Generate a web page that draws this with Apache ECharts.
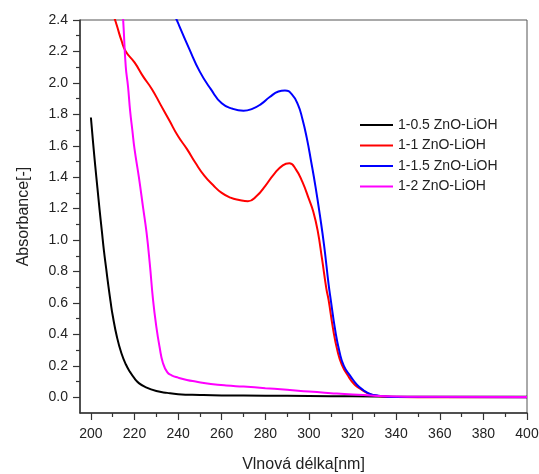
<!DOCTYPE html>
<html>
<head>
<meta charset="utf-8">
<script src="https://cdn.jsdelivr.net/npm/echarts@6/dist/echarts.min.js"></script>
<style>
  html, body { margin: 0; padding: 0; background: #fff; }
  #chart { width: 539px; height: 474px; }
</style>
</head>
<body>
<div id="chart"></div>
<script>
// Sample names and line colours
const seriesNames = ['1-0.5 ZnO-LiOH', '1-1 ZnO-LiOH', '1-1.5 ZnO-LiOH', '1-2 ZnO-LiOH'];
const seriesColors = ['#000000', '#ff0000', '#0000ff', '#ff00ff'];

// 1-0.5 ZnO-LiOH: wavelength [nm] and absorbance
const wl05 = [200, 201, 202, 203, 204, 205, 206, 207, 208, 209, 210, 212, 214, 216, 218, 220, 222, 225, 230, 235, 240, 250, 260, 280, 300, 320, 340, 360, 400];
const abs05 = [1.78, 1.62, 1.47, 1.33, 1.19, 1.06, 0.93, 0.82, 0.71, 0.61, 0.52, 0.38, 0.28, 0.21, 0.16, 0.12, 0.09, 0.065, 0.04, 0.028, 0.02, 0.015, 0.012, 0.01, 0.008, 0.006, 0.004, 0.003, 0.003];

// 1-1 ZnO-LiOH
const wl1 = [208, 210, 212, 214, 216, 220, 224, 228, 232, 236, 240, 244, 248, 252, 256, 260, 264, 268, 272, 276, 280, 284, 288, 291, 294, 297, 300, 302, 304, 306, 308, 309, 311, 313, 315, 318, 321, 324, 327, 331, 336, 340, 360, 400];
const abs1 = [2.55, 2.45, 2.36, 2.27, 2.2, 2.13, 2.04, 1.96, 1.86, 1.76, 1.66, 1.58, 1.49, 1.41, 1.35, 1.3, 1.27, 1.255, 1.247, 1.28, 1.345, 1.42, 1.475, 1.488, 1.45, 1.37, 1.26, 1.18, 1.06, 0.88, 0.69, 0.62, 0.44, 0.3, 0.21, 0.135, 0.08, 0.05, 0.025, 0.01, 0.003, 0.001, 0.0, 0.0];

// 1-1.5 ZnO-LiOH
const wl15 = [234, 238, 240, 245, 250, 255, 260, 265, 270, 274, 278, 282, 286, 289, 292, 295, 297, 299, 301, 303, 305, 307, 309, 310, 312, 314, 316, 319, 322, 325, 328, 332, 336, 340, 360, 400];
const abs15 = [2.65, 2.45, 2.38, 2.22, 2.07, 1.96, 1.87, 1.835, 1.823, 1.835, 1.865, 1.91, 1.945, 1.952, 1.93, 1.86, 1.77, 1.65, 1.5, 1.34, 1.16, 0.96, 0.72, 0.62, 0.43, 0.29, 0.2, 0.135, 0.08, 0.045, 0.022, 0.01, 0.004, 0.002, 0.001, 0.0];

// 1-2 ZnO-LiOH
const wl2 = [213, 214, 215, 216, 217, 218, 219, 220, 222, 224, 225.5, 227, 228.5, 230, 231.5, 233, 235, 237, 240, 244, 248, 255, 262, 270, 280, 290, 300, 310, 320, 330, 340, 350, 400];
const abs2 = [2.9, 2.6, 2.35, 2.1, 1.98, 1.82, 1.7, 1.58, 1.4, 1.2, 1.05, 0.85, 0.62, 0.45, 0.32, 0.22, 0.16, 0.14, 0.125, 0.11, 0.1, 0.085, 0.075, 0.068, 0.058, 0.048, 0.036, 0.026, 0.017, 0.01, 0.005, 0.003, 0.002];

// Axis ticks
const xMajorTicks = [200, 220, 240, 260, 280, 300, 320, 340, 360, 380, 400];
const xMinorTicks = [210, 230, 250, 270, 290, 310, 330, 350, 370, 390];
const yMajorTicks = [0, 0.2, 0.4, 0.6, 0.8, 1.0, 1.2, 1.4, 1.6, 1.8, 2.0, 2.2, 2.4];
const yMinorTicks = [0.1, 0.3, 0.5, 0.7, 0.9, 1.1, 1.3, 1.5, 1.7, 1.9, 2.1, 2.3];

const wavelengths = [wl05, wl1, wl15, wl2];
const absorbances = [abs05, abs1, abs15, abs2];

const font = 'Liberation Sans, Arial, sans-serif';
const axisColor = '#333';
const labelColor = '#222';
// plain line used as the legend key
const lineIcon = 'path://M0,0 L33,0 L33,2 L0,2 Z';

const chart = echarts.init(document.getElementById('chart'), null, { renderer: 'canvas' });

chart.setOption({
  animation: false,
  backgroundColor: '#fff',
  grid: {
    left: 80, right: 12, top: 20, bottom: 61,
    outerBoundsMode: 'none',
    show: true, borderColor: '#555', borderWidth: 1, backgroundColor: 'transparent'
  },
  legend: {
    orient: 'vertical',
    left: 360, top: 118, padding: 0,
    itemWidth: 33, itemHeight: 14, itemGap: 6.5,
    icon: lineIcon,
    textStyle: { fontFamily: font, fontSize: 14, color: labelColor },
    data: seriesNames
  },
  xAxis: [
    {
      type: 'value', min: 195, max: 400,
      name: 'Vlnová délka[nm]', nameLocation: 'middle', nameGap: 44,
      nameTextStyle: { fontFamily: font, fontSize: 16, color: labelColor },
      axisLine: { show: true, onZero: false, lineStyle: { color: axisColor, width: 1.5 } },
      axisTick: { show: true, customValues: xMajorTicks, length: 7, lineStyle: { color: axisColor, width: 1.2 } },
      axisLabel: { customValues: xMajorTicks, margin: 14, fontFamily: font, fontSize: 14, color: labelColor },
      splitLine: { show: false }
    },
    {
      type: 'value', min: 195, max: 400, position: 'bottom', offset: 0,
      axisLine: { show: false, onZero: false },
      axisTick: { show: true, customValues: xMinorTicks, length: 4, lineStyle: { color: axisColor, width: 1.2 } },
      axisLabel: { show: false },
      splitLine: { show: false }
    }
  ],
  yAxis: [
    {
      type: 'value', min: -0.1, max: 2.4,
      name: 'Absorbance[-]', nameLocation: 'middle', nameGap: 48,
      nameTextStyle: { fontFamily: font, fontSize: 16, color: labelColor },
      axisLine: { show: true, onZero: false, lineStyle: { color: axisColor, width: 1.5 } },
      axisTick: { show: true, customValues: yMajorTicks, length: 7, lineStyle: { color: axisColor, width: 1.2 } },
      axisLabel: {
        customValues: yMajorTicks, margin: 12, fontFamily: font, fontSize: 14, color: labelColor,
        formatter: v => v.toFixed(1)
      },
      splitLine: { show: false }
    },
    {
      type: 'value', min: -0.1, max: 2.4, position: 'left', offset: 0,
      axisLine: { show: false, onZero: false },
      axisTick: { show: true, customValues: yMinorTicks, length: 4, lineStyle: { color: axisColor, width: 1.2 } },
      axisLabel: { show: false },
      splitLine: { show: false }
    }
  ],
  series: seriesNames.map((name, i) => ({
    name,
    type: 'line',
    xAxisIndex: 0,
    yAxisIndex: 0,
    data: wavelengths[i].map((w, k) => [w, absorbances[i][k]]),
    smooth: 0.5,
    showSymbol: false,
    symbol: 'none',
    clip: true,
    color: seriesColors[i],
    lineStyle: { width: 2, color: seriesColors[i] }
  }))
});
</script>
</body>
</html>
